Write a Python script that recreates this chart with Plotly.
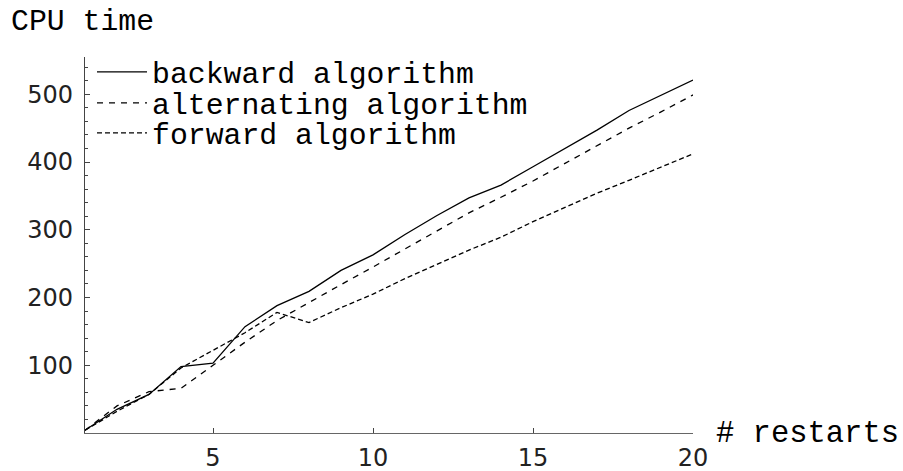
import plotly.graph_objects as go

restarts = list(range(1, 21))
backward = [4, 35, 57, 98, 103, 157, 188, 209, 240, 263, 293, 321, 347, 366, 393, 420, 447, 476, 498, 521]
alternating = [4, 40, 61, 66, 100, 134, 166, 193, 219, 245, 272, 298, 325, 348, 372, 398, 424, 450, 474, 499]
forward = [4, 32, 57, 96, 122, 148, 178, 163, 185, 205, 228, 249, 270, 289, 312, 333, 354, 373, 392, 412]

x_ticks = [5, 10, 15, 20]
y_ticks = [100, 200, 300, 400, 500]

W, H = 903, 471
L, R, T, B = 85, 210, 57, 38

mono = "Liberation Mono, Courier New, monospace"
sans = "DejaVu Sans, Liberation Sans, sans-serif"
fs = 29.8

fig = go.Figure()
series = [
    ("backward algorithm", backward, "solid", "legend"),
    ("alternating algorithm", alternating, "6px,6px", "legend2"),
    ("forward algorithm", forward, "5px,3px", "legend3"),
]
for name, vals, dash, lg in series:
    fig.add_trace(go.Scatter(
        x=restarts, y=vals, mode="lines", name=name,
        line=dict(color="black", width=1.3, dash=dash),
        legend=lg, hoverinfo="skip",
    ))

def leg(ytop):
    return dict(
        x=92 / W, y=1 - ytop / H, xref="container", yref="container",
        xanchor="left", yanchor="top",
        font=dict(family=mono, size=fs, color="black"),
        bgcolor="rgba(0,0,0,0)", borderwidth=0, itemwidth=50,
        tracegroupgap=0,
    )

fig.update_layout(
    width=W, height=H,
    margin=dict(l=L, r=R, t=T, b=B, pad=0, autoexpand=False),
    paper_bgcolor="white", plot_bgcolor="white",
    showlegend=True,
    legend=leg(46), legend2=leg(77), legend3=leg(107),
    xaxis=dict(
        range=[1, 20], tickmode="array", tickvals=x_ticks,
        ticktext=[str(v) for v in x_ticks],
        ticks="inside", ticklen=5, tickcolor="#444", tickwidth=1,
        showline=True, linecolor="#666", linewidth=1.2,
        showgrid=False, zeroline=False, tickangle=0,
        tickfont=dict(family=sans, size=24, color="#222"),
        ticklabelstandoff=3,
    ),
    yaxis=dict(
        range=[0, 555], tickmode="array", tickvals=y_ticks,
        ticktext=[str(v) for v in y_ticks],
        ticks="inside", ticklen=5, tickcolor="#444", tickwidth=1,
        minor=dict(tickmode="linear", tick0=0, dtick=20, ticks="inside",
                   ticklen=2.5, tickcolor="#444", tickwidth=1, showgrid=False),
        showline=True, linecolor="#444", linewidth=1.2,
        showgrid=False, zeroline=False,
        tickfont=dict(family=sans, size=24, color="#222"),
        ticklabelstandoff=6,
    ),
    annotations=[
        dict(text="CPU time", xref="paper", yref="paper",
             x=(9 - L) / (W - L - R), y=(H - B - 22) / (H - T - B),
             xanchor="left", yanchor="middle", showarrow=False,
             font=dict(family=mono, size=fs, color="black")),
        dict(text="# restarts", xref="paper", yref="paper",
             x=(714 - L) / (W - L - R), y=(H - B - 434) / (H - T - B),
             xanchor="left", yanchor="middle", showarrow=False,
             font=dict(family=mono, size=30.5, color="black")),
    ],
)

fig.write_html("out.html")
